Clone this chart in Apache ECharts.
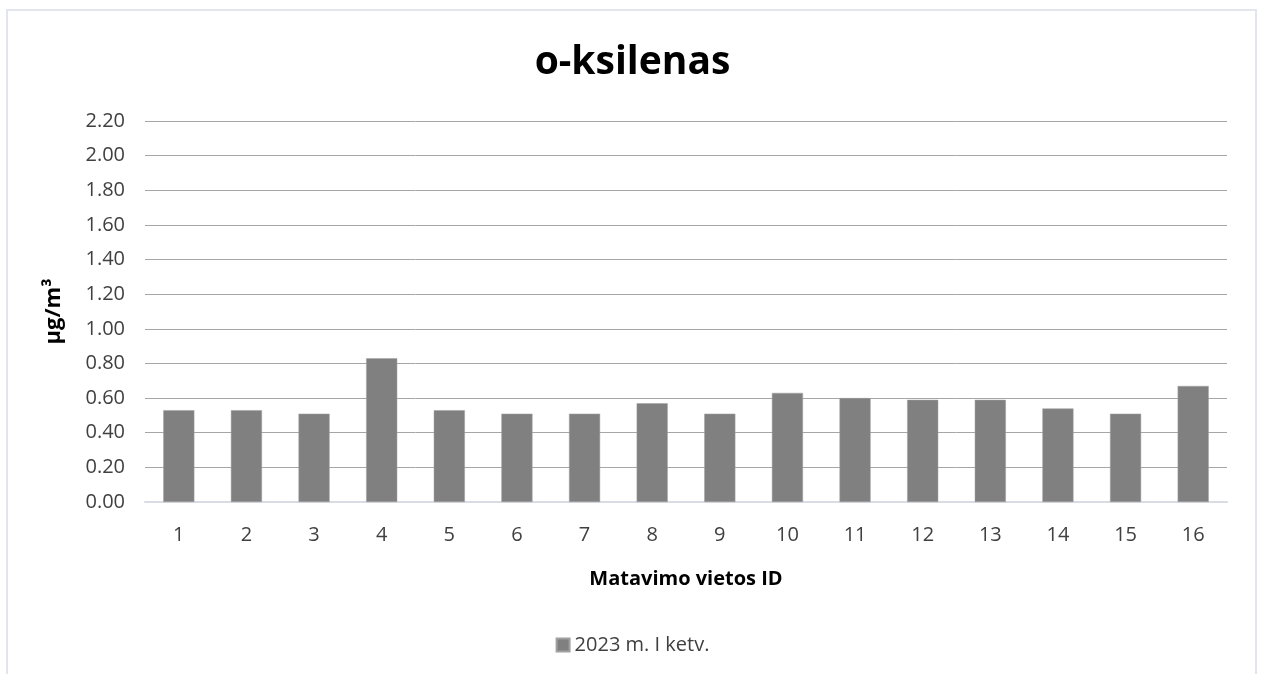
<!DOCTYPE html>
<html>
<head>
<meta charset="utf-8">
<script src="https://cdn.jsdelivr.net/npm/echarts@6/dist/echarts.min.js"></script>
<style>
  html, body { margin: 0; padding: 0; background: #fff; }
  #frame { position: absolute; left: 6px; top: 9px; width: 1247px; height: 700px; border: 2px solid #e3e5ec; }
  #main { position: absolute; left: 0; top: 0; width: 1265px; height: 674px; }
</style>
</head>
<body>
<div id="frame"></div>
<div id="main"></div>
<script>
  // measuring sites and o-xylene concentrations (µg/m3)
  var sites = ['1','2','3','4','5','6','7','8','9','10','11','12','13','14','15','16'];
  var values = [0.53, 0.53, 0.51, 0.83, 0.53, 0.51, 0.51, 0.57, 0.51, 0.63, 0.60, 0.59, 0.59, 0.54, 0.51, 0.67];
  var seriesName = '2023 m. I ketv.';

  var font = '"Open Sans", sans-serif';
  var myChart = echarts.init(document.getElementById('main'));
  var option = {
    animation: false,
    title: {
      text: 'o-ksilenas',
      left: 'center',
      top: 38,
      textStyle: { fontFamily: font, fontSize: 39, fontWeight: 'bold', color: '#000' }
    },
    legend: {
      data: [seriesName],
      bottom: 14,
      left: 'center',
      icon: 'rect',
      itemWidth: 13,
      itemHeight: 13,
      itemGap: 6,
      textStyle: { fontFamily: font, fontSize: 20, color: '#404040' }
    },
    grid: { left: 145, right: 38, top: 121, bottom: 172 },
    xAxis: {
      type: 'category',
      data: sites,
      name: 'Matavimo vietos ID',
      nameLocation: 'middle',
      nameGap: 67,
      nameTextStyle: { fontFamily: font, fontSize: 20, fontWeight: 'bold', color: '#000' },
      axisLine: { lineStyle: { color: '#d9dce4', width: 2 } },
      axisTick: { show: false },
      axisLabel: { margin: 23, fontFamily: font, fontSize: 20, color: '#404040' }
    },
    yAxis: {
      type: 'value',
      min: 0,
      max: 2.2,
      interval: 0.2,
      name: 'µg/m³',
      nameLocation: 'middle',
      nameRotate: 90,
      nameGap: 80,
      nameTextStyle: { fontFamily: font, fontSize: 22, fontWeight: 'bold', color: '#000' },
      axisLine: { show: false },
      axisTick: { show: false },
      splitLine: { lineStyle: { color: '#a6a6a6', width: 1 } },
      axisLabel: {
        margin: 20,
        fontFamily: font,
        fontSize: 20,
        color: '#404040',
        formatter: function (v) { return v.toFixed(2); }
      }
    },
    series: [{
      name: seriesName,
      type: 'bar',
      data: values,
      barWidth: '46%',
      itemStyle: { color: '#808080', borderColor: '#a0a0a0', borderWidth: 0.5 }
    }]
  };
  myChart.setOption(option);
</script>
</body>
</html>
